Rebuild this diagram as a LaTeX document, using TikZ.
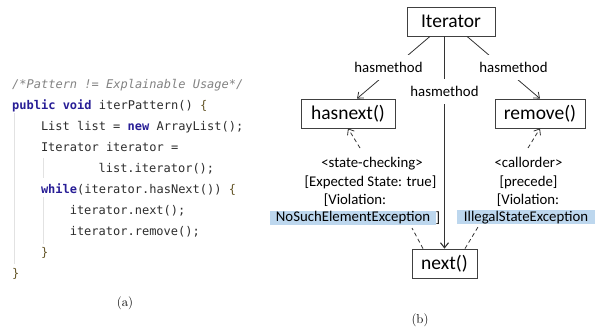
\documentclass[tikz,border=0pt]{standalone}
\usepackage{fontspec}
\setmonofont{DejaVu Sans Mono}
\newfontfamily\diafont{Carlito}
\usetikzlibrary{arrows.meta,calc}
\definecolor{kwblue}{RGB}{40,30,150}
\definecolor{cmtgray}{RGB}{130,130,130}
\definecolor{codegray}{RGB}{45,45,45}
\definecolor{bracebrown}{RGB}{100,85,40}
\definecolor{guidegray}{RGB}{226,226,226}
\definecolor{hlblue}{RGB}{189,215,238}
\newcommand\kw[1]{\textbf{\color{kwblue}#1}}
\tikzstyle{Method}=[rectangle, draw=black!75, line width=0.8pt, minimum height=29pt, inner xsep=8pt, font=\diafont\fontsize{19.5}{23}\selectfont]
\tikzstyle{Code}=[anchor=base west, inner sep=0pt, font=\ttfamily\fontsize{12}{14}\selectfont, text=codegray]
\tikzstyle{Rel}=[fill=white, inner xsep=1pt, inner ysep=7.5pt, font=\diafont\fontsize{14.8}{17}\selectfont]
\tikzstyle{Note}=[anchor=base, inner sep=0pt, font=\diafont\fontsize{14.8}{17}\selectfont]
\tikzstyle{Hilite}=[Note, anchor=center, fill=hlblue, minimum height=14pt]
\tikzstyle{Link}=[draw=black!80, line width=0.8pt]
\tikzstyle{Flow}=[Link, -{Straight Barb[length=5pt,width=8pt]}]
\tikzstyle{Dep}=[Flow, dash pattern=on 4pt off 3pt]

\begin{document}
\begin{tikzpicture}[x=1pt, y=-1pt]
    \useasboundingbox (0,0) rectangle (597,331);

    % (a) code listing
    \draw[guidegray, line width=1pt] (14,113) -- (14,264);
    \draw[guidegray, line width=1pt] (43,158) -- (43,178);
    \draw[guidegray, line width=1pt] (43,197) -- (43,244);
    \node[Code] (c0) at (12,88.5) {\color{cmtgray}\itshape /*Pattern != Explainable Usage*/};
    \node[Code] (c1) at (12,109.5) {\kw{public void} iterPattern() {\color{bracebrown}\{}};
    \node[Code] (c2) at (40.8,130.5) {List list = \kw{new} ArrayList();};
    \node[Code] (c3) at (40.8,151.5) {Iterator iterator =};
    \node[Code] (c4) at (98.4,172.5) {list.iterator();};
    \node[Code] (c5) at (40.8,193.5) {\kw{while}(iterator.hasNext()) {\color{bracebrown}\{}};
    \node[Code] (c6) at (69.6,214.5) {iterator.next();};
    \node[Code] (c7) at (69.6,235.5) {iterator.remove();};
    \node[Code] (c8) at (40.8,256.5) {\color{bracebrown}\}};
    \node[Code] (c9) at (12,277.5) {\color{bracebrown}\}};
    \node[font=\fontsize{13}{15}\selectfont] (capa) at (125,303) {(a)};

    % (b) usage pattern graph
    \path
    (451,21.5) node[Method, minimum width=88pt] (iterator) {Iterator}
    (348,113.5) node[Method, minimum width=94pt] (hasnext) {hasnext()}
    (540,113.5) node[Method, minimum width=90pt] (remove) {remove()}
    (444.5,263.5) node[Method, minimum width=65pt] (next) {next()};

    \draw[Flow] ($(iterator.south)+(-21,0)$) -- node[Rel, xshift=-5pt] {hasmethod} ($(hasnext.north)+(9,0)$);
    \draw[Flow] ($(iterator.south)+(16,0)$) -- node[Rel, xshift=10pt] {hasmethod} (remove.north);
    \draw[Flow, line width=1.1pt] (iterator.south -| next.north) -- node[Rel, pos=0.26] {hasmethod} (next.north);

    \coordinate (hnlow) at (412,228);
    \coordinate (hnup) at (360,148);
    \coordinate (rmlow) at (478,227);
    \coordinate (rmup) at (528,148);
    \draw[Dep] ($(next.north)+(-21.5,0)$) -- (hnlow) (hnup) -- (hasnext.south);
    \draw[Dep] ($(next.north)+(20.5,0)$) -- (rmlow) (rmup) -- (remove.south);

    \node[Note] (stcheck) at (372,167.5) {<state-checking>};
    \node[Note] (expst) at (370.5,186.5) {[Expected State: true]};
    \node[Note] (violl) at (355,204.5) {[Violation:};
    \node[Hilite, minimum width=166pt] (nsee) at (353,218) {NoSuchElementException};
    \node[Note] (closel) at (438,222.5) {]};

    \node[Note] (callord) at (528.5,167.5) {<callorder>};
    \node[Note] (preced) at (528.5,186.5) {[precede]};
    \node[Note] (violr) at (528,204.5) {[Violation:};
    \node[Hilite, minimum width=138pt] (ise) at (526,217.5) {IllegalStateException};

    \node[font=\fontsize{13}{15}\selectfont] (capb) at (420,320) {(b)};
\end{tikzpicture}
\end{document}
